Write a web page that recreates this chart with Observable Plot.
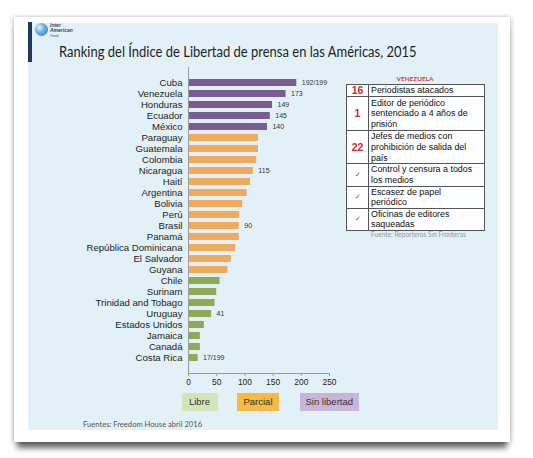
<!DOCTYPE html>
<html>
<head>
<meta charset="utf-8">
<script src="https://cdn.jsdelivr.net/npm/d3@7"></script>
<script src="https://cdn.jsdelivr.net/npm/@observablehq/plot@0.6"></script>
<style>
  html, body { margin: 0; padding: 0; background: #ffffff; }
  body { width: 533px; height: 458px; position: relative; overflow: hidden; font-family: "Liberation Sans", Arial, sans-serif; }
  #card { position: absolute; left: 14px; top: 17px; width: 496px; height: 425px; background: #fff;
          box-shadow: 0 9px 6px -3px rgba(0,0,0,0.6), -2px 0 4px rgba(0,0,0,0.15), 2px 0 4px rgba(0,0,0,0.15); }
  #panel { position: absolute; left: 28px; top: 23px; width: 470px; height: 407px; background: #e2f1f8; }
  #bar { position: absolute; left: 28px; top: 22px; width: 4px; height: 40px; background: #1f3a5e; }
  #globe { position: absolute; left: 35px; top: 23px; width: 13px; height: 13px; border-radius: 50%;
           background: radial-gradient(circle at 35% 35%, #e8f6ff 0%, #6cb4e6 40%, #1d6fb5 100%); }
  #brand { position: absolute; left: 50px; top: 23px; font: italic bold 5px "Liberation Sans", Arial, sans-serif; color: #445; line-height: 5px; }
  #title { position: absolute; left: 59px; top: 43px; font-family: Lato, "Open Sans", sans-serif; font-size: 14.6px; color: #1e1e1e; white-space: nowrap; transform: scaleX(0.89); transform-origin: 0 0; }
  #plot { position: absolute; left: 28px; top: 62px; }
  #legend div { position: absolute; top: 393px; height: 18px; line-height: 18px; text-align: center; font-size: 9.5px; color: #333; }
  #footer { position: absolute; left: 83px; top: 419px; font-family: Lato, "Open Sans", sans-serif; font-size: 7.6px; color: #555; }
  #vhead { position: absolute; left: 346px; top: 75px; width: 138px; text-align: center; font-family: Lato, sans-serif; font-weight: bold; font-size: 6.4px; color: #d33a3a; }
  #tbl { position: absolute; left: 346px; top: 84px; border-collapse: collapse; background: #fbfdfe; }
  #tbl td { border: 1px solid #555; padding: 0 0 0 2px; font-size: 8.9px; line-height: 10.6px; color: #111; vertical-align: middle; }
  #tbl td.n { width: 21px; padding: 0; text-align: center; color: #d42a2a; font-weight: bold; font-size: 10.5px; }
  #tbl td.c { font-size: 7px; font-weight: normal; }
  #src { position: absolute; left: 371px; top: 230px; font-family: Lato, sans-serif; font-size: 6.6px; color: #8a9aa2; }
</style>
</head>
<body>
<div id="card"></div>
<div id="panel"></div>
<div id="bar"></div>
<div id="globe"></div>
<div id="brand">Inter<br>American<br><span style="font-size:3px;font-weight:normal">Trends</span></div>
<div id="title">Ranking del Índice de Libertad de prensa en las Américas, 2015</div>
<div id="plot"></div>
<div id="vhead">VENEZUELA</div>
<table id="tbl"></table>
<div id="src">Fuente: Reporteros Sin Fronteras</div>
<div id="legend"></div>
<div id="footer">Fuentes: Freedom House abril 2016</div>
<script>
const countries = ["Cuba","Venezuela","Honduras","Ecuador","México","Paraguay","Guatemala","Colombia","Nicaragua","Haití","Argentina","Bolivia","Perú","Brasil","Panamá","República Dominicana","El Salvador","Guyana","Chile","Surinam","Trinidad and Tobago","Uruguay","Estados Unidos","Jamaica","Canadá","Costa Rica"];
const values = [192,173,149,145,140,124,124,121,115,110,104,96,91,90,90,84,76,70,56,50,47,41,28,21,21,17];
const statuses = ["Sin libertad","Sin libertad","Sin libertad","Sin libertad","Sin libertad","Parcial","Parcial","Parcial","Parcial","Parcial","Parcial","Parcial","Parcial","Parcial","Parcial","Parcial","Parcial","Parcial","Libre","Libre","Libre","Libre","Libre","Libre","Libre","Libre"];
const valueLabels = ["192/199","173","149","145","140","","","","115","","","","","90","","","","","","","","41","","","","17/199"];
const xTicks = [0,50,100,150,200,250];

const statusNames = ["Libre","Parcial","Sin libertad"];
const barColors = ["#8dab55","#eeaa5d","#7a5c92"];
const legendColors = ["#d2e5b7","#f5b944","#c9b4da"];

const tableNums = ["16","1","22","✓","✓","✓"];
const tableTexts = ["Periodistas atacados","Editor de periódico<br>sentenciado a 4 años de<br>prisión","Jefes de medios con<br>prohibición de salida del<br>país","Control y censura a todos<br>los medios","Escasez de papel<br>periódico","Oficinas de editores<br>saqueadas"];
const tableHeights = [11, 34.7, 33, 22.3, 21.4, 21];

const data = countries.map((c, i) => ({country: c, value: values[i], status: statuses[i], label: valueLabels[i]}));

const chart = Plot.plot({
  width: 320,
  height: 328,
  marginLeft: 160,
  marginRight: 19,
  marginTop: 5,
  marginBottom: 17,
  style: {fontFamily: "'Liberation Sans', Arial, sans-serif", background: "transparent", overflow: "visible"},
  x: {domain: [0, 250]},
  y: {domain: countries, paddingInner: 0.4, paddingOuter: 0.3},
  color: {domain: statusNames, range: barColors},
  marks: [
    Plot.barX(data, {y: "country", x: "value", fill: "status"}),
    Plot.text(data.filter(d => d.label), {y: "country", x: "value", text: "label", dx: 5, textAnchor: "start", fontSize: 7, fill: "#333"}),
    Plot.frame({anchor: "left", stroke: "#9a9a9a"}),
    Plot.frame({anchor: "bottom", stroke: "#9a9a9a"}),
    Plot.axisY({tickSize: 0, tickPadding: 6, fontSize: 9.6, color: "#1e1e1e", label: null}),
    Plot.axisX({ticks: xTicks, tickSize: 3, tickPadding: 3, fontSize: 8.4, color: "#333", stroke: "#9a9a9a", label: null})
  ]
});
chart.querySelectorAll("g[aria-label='y-axis tick label'] text, g[aria-label='x-axis tick label'] text").forEach(t => t.setAttribute("fill", "#222"));
document.getElementById("plot").appendChild(chart);

// Venezuela table
const tbl = document.getElementById("tbl");
tableNums.forEach((n, i) => {
  const tr = document.createElement("tr");
  tr.style.height = tableHeights[i] + "px";
  const td1 = document.createElement("td");
  td1.className = "n" + (n === "✓" ? " c" : "");
  td1.textContent = n;
  const td2 = document.createElement("td");
  td2.style.width = "113px";
  td2.innerHTML = tableTexts[i];
  tr.appendChild(td1); tr.appendChild(td2);
  tbl.appendChild(tr);
});

// Legend
const legendPos = [[181.5, 36], [237, 42], [300, 58.5]];
const legend = document.getElementById("legend");
statusNames.forEach((s, i) => {
  const d = document.createElement("div");
  d.style.left = legendPos[i][0] + "px";
  d.style.width = legendPos[i][1] + "px";
  d.style.background = legendColors[i];
  d.textContent = s;
  legend.appendChild(d);
});
</script>
</body>
</html>
